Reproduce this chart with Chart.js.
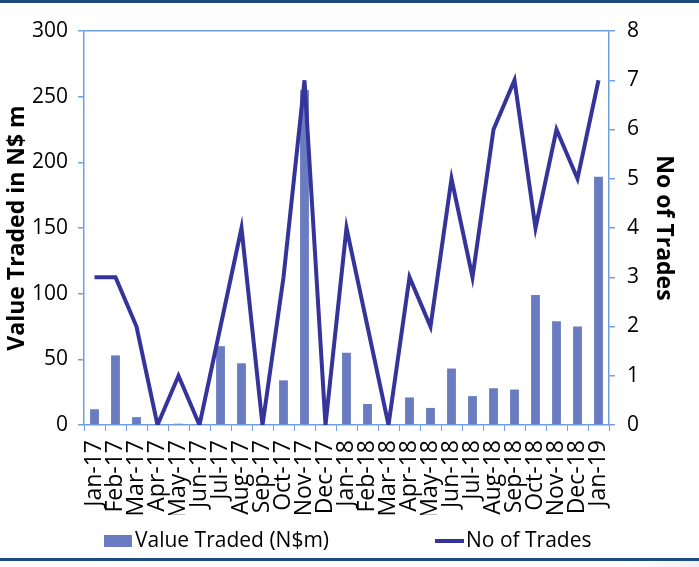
<!DOCTYPE html>
<html>
<head>
<meta charset="utf-8">
<script src="https://cdn.jsdelivr.net/npm/chart.js@4.4.1/dist/chart.umd.min.js"></script>
<style>
  body { margin: 0; background: #fff; }
  #wrap { position: relative; width: 699px; height: 567px; }
  #topLine { position: absolute; left: 0; top: 0; width: 699px; height: 3px; background: #1f4a7f; }
  #bottomLine { position: absolute; left: 0; top: 558px; width: 699px; height: 3px; background: #1f4a7f; }
  #shade { position: absolute; left: 620px; top: 561px; width: 79px; height: 6px; background: linear-gradient(to right, #fff, #eef0f3); }
</style>
</head>
<body>
<div id="wrap">
  <canvas id="myChart" width="699" height="567"></canvas>
  <div id="topLine"></div>
  <div id="bottomLine"></div>
  <div id="shade"></div>
</div>
<script>
var Meses = ['Jan-17', 'Feb-17', 'Mar-17', 'Apr-17', 'May-17', 'Jun-17', 'Jul-17', 'Aug-17', 'Sep-17', 'Oct-17', 'Nov-17', 'Dec-17',
             'Jan-18', 'Feb-18', 'Mar-18', 'Apr-18', 'May-18', 'Jun-18', 'Jul-18', 'Aug-18', 'Sep-18', 'Oct-18', 'Nov-18', 'Dec-18', 'Jan-19']

var ValorNegociado = [12, 53, 6, 0, 1, 0, 60, 47, 0, 34, 255, 0,
                      55, 16, 0, 21, 13, 43, 22, 28, 27, 99, 79, 75, 189]

var NumeroOperaciones = [3, 3, 2, 0, 1, 0, 2, 4, 0, 3, 7, 0,
                         4, 2, 0, 3, 2, 5, 3, 6, 7, 4, 6, 5, 7]

var EjeIzq = [0, 50, 100, 150, 200, 250, 300]
var EjeDer = [0, 1, 2, 3, 4, 5, 6, 7, 8]

var azulEje = '#6f9fdc'
var colorBarra = '#6a7cc1'
var colorLinea = '#34349a'
var fuente = "'Open Sans', 'Noto Sans', sans-serif"

// leyenda propia, dibujada con los colores de los datasets
var leyenda = {
    id: 'leyenda',
    afterDraw: function (chart) {
        var ctx = chart.ctx
        var ds = chart.data.datasets
        var y = 541
        ctx.save()
        ctx.font = '21px ' + fuente
        ctx.textBaseline = 'middle'
        ctx.fillStyle = ds[0].backgroundColor
        ctx.fillRect(104, y - 6, 28, 12)
        ctx.fillStyle = '#000'
        ctx.fillText(ds[0].label, 135, y)
        ctx.strokeStyle = ds[1].borderColor
        ctx.lineWidth = 4
        ctx.beginPath()
        ctx.moveTo(435, y)
        ctx.lineTo(464, y)
        ctx.stroke()
        ctx.fillStyle = '#000'
        ctx.fillText(ds[1].label, 466, y)
        ctx.restore()
    }
}

var ctx = document.getElementById('myChart')
var chartData = {
    type: 'bar',
    data: {
        labels: Meses,
        datasets: [{
            label: 'Value Traded (N$m)',
            data: ValorNegociado,
            backgroundColor: colorBarra,
            borderWidth: 0,
            barPercentage: 0.42,
            categoryPercentage: 1,
            yAxisID: 'y',
            order: 2
        },
        {
            type: 'line',
            label: 'No of Trades',
            data: NumeroOperaciones,
            borderColor: colorLinea,
            backgroundColor: colorLinea,
            borderWidth: 4,
            borderJoinStyle: 'miter',
            pointRadius: 0,
            tension: 0,
            fill: false,
            yAxisID: 'y1',
            order: 1
        }]
    },
    options: {
        responsive: false,
        devicePixelRatio: 1,
        animation: false,
        layout: { padding: { top: 31, left: 4, right: 20, bottom: 52 } },
        plugins: {
            legend: { display: false },
            tooltip: { enabled: false }
        },
        scales: {
            x: {
                offset: true,
                afterFit: function (axis) { axis.height = 90 },
                grid: { offset: true, drawOnChartArea: false, color: azulEje, tickLength: 6 },
                border: { color: azulEje, width: 1.5 },
                ticks: { color: '#000', font: { family: fuente, size: 23 }, maxRotation: 90, minRotation: 90, autoSkip: false, padding: 9 }
            },
            y: {
                position: 'left',
                min: 0, max: 300,
                afterFit: function (axis) { axis.width = 80 },
                afterBuildTicks: function (axis) { axis.ticks = EjeIzq.map(function (v) { return { value: v } }) },
                grid: {
                    color: function (c) { return c.tick && c.tick.value === 300 ? azulEje : 'rgba(0,0,0,0)' },
                    tickColor: azulEje, tickLength: 6, lineWidth: 1.5
                },
                border: { color: azulEje, width: 1.5 },
                ticks: { color: '#000', font: { family: fuente, size: 21 }, padding: 10 },
                title: { display: true, text: 'Value Traded in N$ m', color: '#000', font: { family: fuente, size: 23, weight: 'bold' }, padding: { top: 0, bottom: 0 } }
            },
            y1: {
                position: 'right',
                min: 0, max: 8,
                afterFit: function (axis) { axis.width = 70 },
                afterBuildTicks: function (axis) { axis.ticks = EjeDer.map(function (v) { return { value: v } }) },
                grid: { drawOnChartArea: false, color: azulEje, tickLength: 6, lineWidth: 1.5 },
                border: { color: azulEje, width: 1.5 },
                ticks: { color: '#000', font: { family: fuente, size: 21 }, padding: 12 },
                title: { display: true, text: 'No of Trades', color: '#000', font: { family: fuente, size: 23, weight: 'bold' }, padding: { top: 2, bottom: 0 } }
            }
        }
    },
    plugins: [leyenda]
};
var myChart = new Chart(ctx, chartData);
</script>
</body>
</html>
